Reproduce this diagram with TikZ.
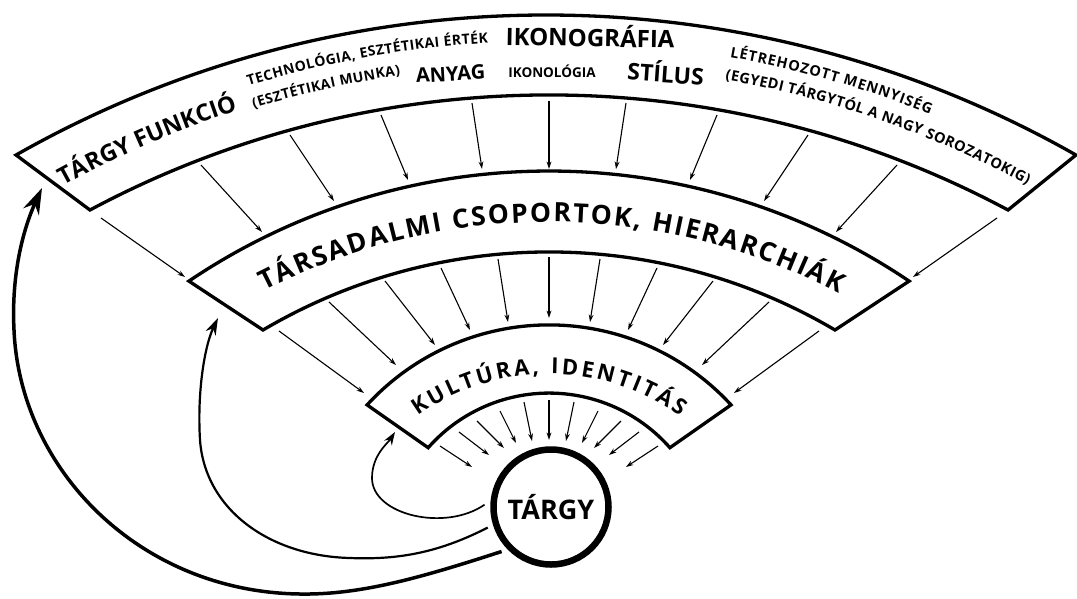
\documentclass[tikz,border=0pt]{standalone}
\usepackage{fontspec}
\setmainfont{Open Sans}
\usetikzlibrary{arrows.meta,decorations.text}
\newcommand\myfs[1]{\fontsize{#1}{#1}\selectfont\bfseries}
\begin{document}
\begin{tikzpicture}[x=1pt,y=-1pt,
  band/.style={draw=black,line width=3.3pt,line join=miter,fill=white},
  sarr/.style={line width=1.1pt,-{Stealth[length=7.5pt,width=4.8pt]}},
  bigA/.style={line width=3.5pt,-{Stealth[length=26pt,width=17pt]}},
  midA/.style={line width=2.2pt,-{Stealth[length=17pt,width=11pt]}},
  inA/.style={line width=1.7pt,-{Stealth[length=13pt,width=9pt]}},
  lbl/.style={inner sep=0pt,anchor=base}]
\useasboundingbox (0,0) rectangle (1077,598);
\fill[white] (0,0) rectangle (1077,598);

% bands
\draw[band] (16,155) arc[start angle=240.4,end angle=299.6,radius=1073] -- (1008,210) arc[start angle=298.15,end angle=241.85,radius=973] -- cycle;
\draw[band] (188.9,281.1) arc[start angle=236,end angle=304,radius=644] -- (835,330) arc[start angle=300.53,end angle=239.47,radius=563] -- cycle;
\draw[band] (367.1,404.9) arc[start angle=222.54,end angle=317.46,radius=247] -- (669.9,447.7) arc[start angle=318.65,end angle=221.35,radius=161] -- cycle;

% small arrows band1 -> band2
\foreach \ax/\ay/\bx/\by in {101/218/185/277,201/165/262/232,290/135/334/201,381/115/408/180,472/103/482/169}{
  \draw[sarr] (\ax,\ay) -- (\bx,\by);
  \draw[sarr] ({1098-\ax},\ay) -- ({1098-\bx},\by);
}
\draw[sarr] (549,101) -- (549,169);
% band2 -> band3
\foreach \ax/\ay/\bx/\by in {279/331/364/393,329/302/396/365,385/281/435/345,441/268/470/330,498/259/508/322}{
  \draw[sarr] (\ax,\ay) -- (\bx,\by);
  \draw[sarr] ({1098-\ax},\ay) -- ({1098-\bx},\by);
}
\draw[sarr] (549,257) -- (549,318);
% band3 -> object
\foreach \ax/\ay/\bx/\by in {440/446/472/467,459/432/489/455,477/421/504/448,500/411/516/443,524/402/532/441}{
  \draw[sarr] (\ax,\ay) -- (\bx,\by);
  \draw[sarr] ({1098-\ax},\ay) -- ({1098-\bx},\by);
}
\draw[sarr] (549,400) -- (549,440);

% central object
\node[circle,draw,line width=6.5pt,minimum size=115pt,inner sep=0pt,outer sep=9pt,font=\myfs{27}] (targy) at (551,507) {TÁRGY};

% curved feedback arrows
\coordinate (t1) at (395,432);
\coordinate (t2) at (218,318);
\coordinate (t3) at (42,188);
\draw[inA] (targy.178) .. controls (445,532) and (372,515) .. (372,478) .. controls (372,455) and (388,443) .. (t1);
\draw[midA] (targy.198) .. controls (440,552) and (400,560) .. (350,558) .. controls (270,556) and (205,510) .. (200,440) .. controls (197,390) and (205,345) .. (t2);
\draw[bigA] (targy.222) .. controls (420,578) and (360,595) .. (300,594) .. controls (140,592) and (20,470) .. (14,330) .. controls (11,270) and (25,225) .. (t3);

% curved texts
\path[decorate,decoration={text along path,text align={fit to path},text={|\myfs{23.5}|TÁRGY FUNKCIÓ}}] ([shift={(241.2:1007)}]549,1068) arc[start angle=241.2,end angle=252,radius=1007];
\path[decorate,decoration={text along path,text align={fit to path},text={|\myfs{14}|TECHNOLÓGIA, ESZTÉTIKAI ÉRTÉK}}] ([shift={(253.0:1027)}]549,1068) arc[start angle=253.0,end angle=266.6,radius=1027];
\path[decorate,decoration={text along path,text align={fit to path},text={|\myfs{14}|(ESZTÉTIKAI MUNKA)}}] ([shift={(252.9:1004)}]549,1068) arc[start angle=252.9,end angle=261.5,radius=1004];
\path[decorate,decoration={text along path,text align={fit to path},text={|\myfs{14.5}|LÉTREHOZOTT MENNYISÉG}}] ([shift={(280.15:1027)}]549,1068) arc[start angle=280.15,end angle=291.78,radius=1027];
\path[decorate,decoration={text along path,text align={fit to path},text={|\myfs{14.5}|(EGYEDI TÁRGYTÓL A NAGY SOROZATOKIG)}}] ([shift={(280.1:1004)}]549,1068) arc[start angle=280.1,end angle=298.43,radius=1004];
\path[decorate,decoration={text along path,text align={fit to path},text={|\myfs{26.5}|TÁRSADALMI CSOPORTOK, HIERARCHIÁK}}] ([shift={(242.8:623)}]549,845) arc[start angle=242.8,end angle=297.7,radius=623];
\path[decorate,decoration={text along path,text align={fit to path},text={|\myfs{22}|KULTÚRA, IDENTITÁS}}] ([shift={(234.5:226)}]549,600) arc[start angle=234.5,end angle=305.5,radius=226];

% straight labels
\node[lbl,font=\myfs{20},rotate=3] (anyag) at (451,81) {ANYAG};
\node[lbl,font=\myfs{24},rotate=-1] (ikgr) at (590,46.5) {IKONOGRÁFIA};
\node[lbl,font=\myfs{13.5}] (iklg) at (552,77) {IKONOLÓGIA};
\node[lbl,font=\myfs{23},rotate=-4] (stil) at (665,82.5) {STÍLUS};
\end{tikzpicture}
\end{document}
